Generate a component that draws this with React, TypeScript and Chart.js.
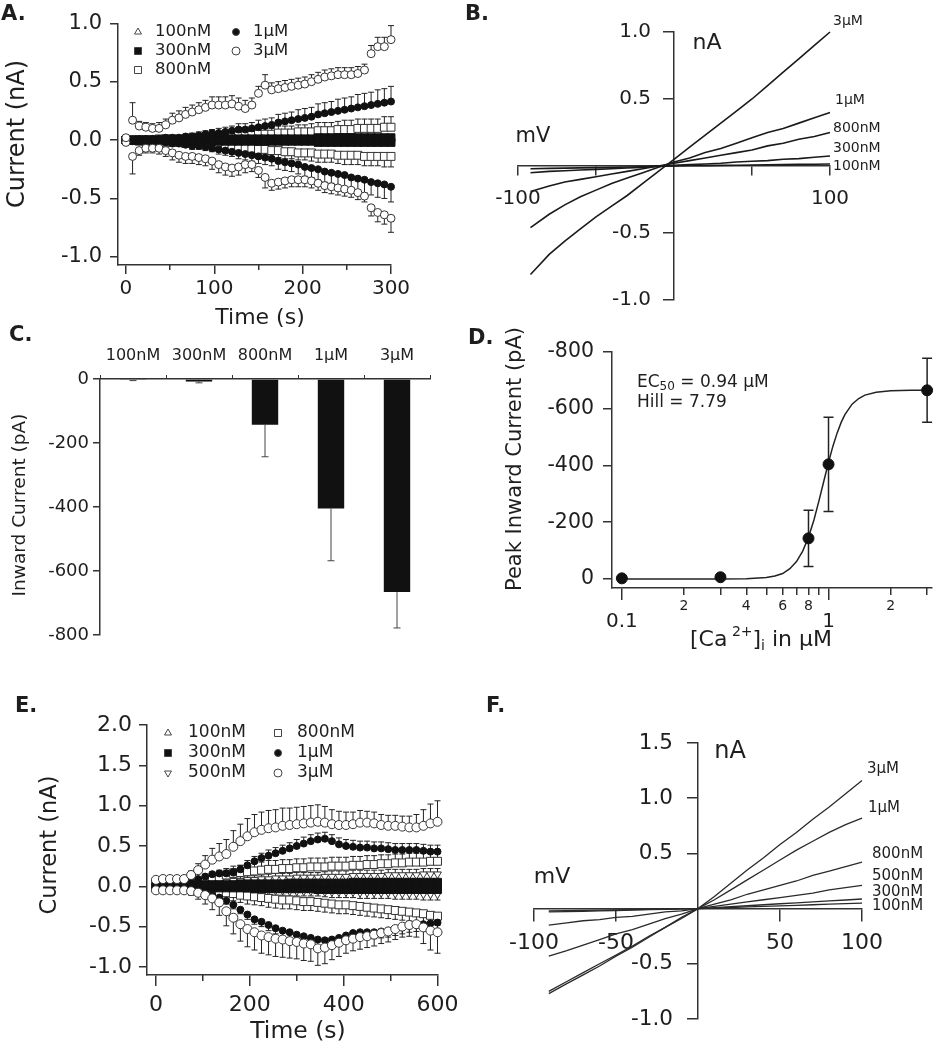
import React, { useEffect, useRef } from 'react';
import { Chart, registerables } from 'chart.js';
Chart.register(...registerables);

const W = 938;
const H = 1050;
const FAM = "'DejaVu Sans', 'Liberation Sans', Arial, sans-serif";
const INK = '#1e1e1e';
const AXC = '#333333';
Chart.defaults.font.family = FAM;

// ---------------- Panel A data (time course, Ca 100nM..3uM) ----------------
const A_T = [0,7.5,15,22.5,30,37.5,45,52.5,60,67.5,75,82.5,90,97.5,105,112.5,120,127.5,135,142.5,150,157.5,165,172.5,180,187.5,195,202.5,210,217.5,225,232.5,240,247.5,255,262.5,270,277.5,285,292.5,300];
const A_3UM_UP = [0.02,0.17,0.12,0.11,0.10,0.10,0.13,0.17,0.19,0.22,0.24,0.26,0.28,0.30,0.30,0.30,0.31,0.29,0.27,0.30,0.40,0.47,0.43,0.44,0.45,0.46,0.47,0.48,0.50,0.52,0.54,0.55,0.56,0.56,0.56,0.57,0.60,0.74,0.80,0.80,0.86];
const A_3UM_DN = [-0.02,-0.14,-0.09,-0.07,-0.07,-0.07,-0.09,-0.11,-0.13,-0.14,-0.14,-0.15,-0.16,-0.18,-0.21,-0.23,-0.24,-0.23,-0.21,-0.21,-0.26,-0.32,-0.37,-0.36,-0.35,-0.34,-0.34,-0.34,-0.35,-0.37,-0.39,-0.40,-0.41,-0.42,-0.43,-0.45,-0.48,-0.58,-0.62,-0.64,-0.67];
const A_3UM_ERR = [0.02,0.15,0.04,0.04,0.04,0.05,0.05,0.06,0.06,0.06,0.06,0.06,0.06,0.07,0.07,0.07,0.07,0.07,0.07,0.06,0.06,0.09,0.06,0.06,0.06,0.06,0.06,0.06,0.06,0.06,0.06,0.06,0.06,0.06,0.06,0.06,0.05,0.07,0.08,0.08,0.12];
const A_1UM_UP = [0.00,0.00,0.01,0.01,0.01,0.01,0.02,0.02,0.02,0.03,0.03,0.04,0.05,0.06,0.06,0.07,0.08,0.09,0.09,0.10,0.11,0.12,0.13,0.15,0.16,0.17,0.18,0.19,0.20,0.22,0.23,0.24,0.25,0.26,0.27,0.28,0.29,0.30,0.31,0.32,0.33];
const A_1UM_DN = [0.00,-0.01,-0.01,-0.01,-0.02,-0.02,-0.02,-0.03,-0.03,-0.04,-0.05,-0.05,-0.06,-0.07,-0.08,-0.09,-0.10,-0.11,-0.12,-0.13,-0.14,-0.15,-0.16,-0.18,-0.19,-0.20,-0.21,-0.23,-0.24,-0.25,-0.27,-0.28,-0.29,-0.30,-0.32,-0.33,-0.34,-0.36,-0.37,-0.38,-0.40];
const A_1UM_ERR = [0.01,0.01,0.01,0.01,0.01,0.02,0.02,0.02,0.02,0.02,0.03,0.03,0.03,0.03,0.04,0.04,0.04,0.05,0.05,0.05,0.06,0.06,0.06,0.07,0.07,0.07,0.08,0.08,0.08,0.09,0.09,0.09,0.10,0.10,0.10,0.11,0.11,0.11,0.12,0.12,0.13];
const A_800_UP = [0.00,0.00,0.00,0.00,0.00,0.01,0.01,0.01,0.01,0.01,0.02,0.02,0.02,0.02,0.03,0.03,0.03,0.04,0.04,0.04,0.05,0.05,0.05,0.06,0.06,0.06,0.07,0.07,0.07,0.08,0.08,0.08,0.09,0.09,0.09,0.10,0.10,0.10,0.10,0.11,0.11];
const A_800_DN = [0.00,0.00,-0.01,-0.01,-0.01,-0.01,-0.02,-0.02,-0.02,-0.03,-0.03,-0.03,-0.04,-0.04,-0.05,-0.05,-0.06,-0.06,-0.07,-0.07,-0.08,-0.08,-0.09,-0.09,-0.10,-0.10,-0.11,-0.11,-0.11,-0.12,-0.12,-0.12,-0.13,-0.13,-0.13,-0.13,-0.14,-0.14,-0.14,-0.14,-0.14];
const A_800_ERR = [0.01,0.01,0.01,0.01,0.01,0.01,0.02,0.02,0.02,0.02,0.02,0.03,0.03,0.03,0.03,0.04,0.04,0.04,0.04,0.05,0.05,0.05,0.05,0.06,0.06,0.06,0.06,0.06,0.07,0.07,0.07,0.07,0.07,0.08,0.08,0.08,0.08,0.08,0.08,0.09,0.09];
const A_300_UP = [0.00,0.00,0.00,0.00,0.00,0.00,0.00,0.00,0.00,0.00,0.01,0.01,0.01,0.01,0.01,0.01,0.01,0.01,0.01,0.01,0.01,0.01,0.01,0.01,0.01,0.01,0.01,0.01,0.01,0.02,0.02,0.02,0.02,0.02,0.02,0.02,0.02,0.02,0.02,0.02,0.02];
const A_300_DN = [0.00,0.00,0.00,0.00,0.00,0.00,0.00,0.00,0.00,0.00,-0.01,-0.01,-0.01,-0.01,-0.01,-0.01,-0.01,-0.01,-0.01,-0.01,-0.01,-0.01,-0.01,-0.01,-0.01,-0.01,-0.01,-0.01,-0.01,-0.02,-0.02,-0.02,-0.02,-0.02,-0.02,-0.02,-0.02,-0.02,-0.02,-0.02,-0.02];
const A_300_ERR = [0.01,0.01,0.01,0.01,0.01,0.01,0.01,0.01,0.01,0.01,0.01,0.01,0.01,0.01,0.01,0.01,0.01,0.01,0.01,0.01,0.01,0.01,0.01,0.01,0.01,0.01,0.01,0.01,0.01,0.01,0.01,0.01,0.01,0.01,0.01,0.01,0.01,0.01,0.01,0.01,0.01];
const A_100_UP = [0.00,0.00,0.00,0.00,0.00,0.00,0.00,0.00,0.00,0.00,0.00,0.00,0.00,0.00,0.00,0.00,0.00,0.00,0.00,0.00,0.01,0.01,0.01,0.01,0.01,0.01,0.01,0.01,0.01,0.01,0.01,0.01,0.01,0.01,0.01,0.01,0.01,0.01,0.01,0.01,0.01];
const A_100_DN = [0.00,0.00,0.00,0.00,0.00,0.00,0.00,0.00,0.00,0.00,0.00,0.00,0.00,0.00,0.00,0.00,0.00,0.00,0.00,0.00,-0.01,-0.01,-0.01,-0.01,-0.01,-0.01,-0.01,-0.01,-0.01,-0.01,-0.01,-0.01,-0.01,-0.01,-0.01,-0.01,-0.01,-0.01,-0.01,-0.01,-0.01];
const A_100_ERR = [0.01,0.01,0.01,0.01,0.01,0.01,0.01,0.01,0.01,0.01,0.01,0.01,0.01,0.01,0.01,0.01,0.01,0.01,0.01,0.01,0.01,0.01,0.01,0.01,0.01,0.01,0.01,0.01,0.01,0.01,0.01,0.01,0.01,0.01,0.01,0.01,0.01,0.01,0.01,0.01,0.01];

// ---------------- Panel B data (I-V ramps) ----------------
const B_MV = [-92,-80,-70,-60,-50,-40,-30,-20,-10,0,10,20,30,40,50,60,70,80,90,100];
const B_3UM = [-0.81,-0.66,-0.56,-0.47,-0.38,-0.30,-0.22,-0.13,-0.04,0.05,0.14,0.23,0.32,0.41,0.50,0.60,0.70,0.80,0.90,1.00];
const B_1UM = [-0.46,-0.36,-0.29,-0.23,-0.18,-0.13,-0.09,-0.05,-0.01,0.03,0.06,0.10,0.13,0.17,0.21,0.25,0.28,0.32,0.36,0.40];
const B_800 = [-0.19,-0.15,-0.12,-0.10,-0.08,-0.06,-0.04,-0.02,0.00,0.02,0.04,0.06,0.08,0.10,0.12,0.15,0.17,0.20,0.22,0.25];
const B_300 = [-0.05,-0.04,-0.035,-0.03,-0.025,-0.02,-0.015,-0.01,0.00,0.005,0.01,0.015,0.02,0.03,0.035,0.04,0.05,0.055,0.065,0.075];
const B_100 = [-0.02,-0.018,-0.016,-0.014,-0.012,-0.01,-0.008,-0.006,-0.003,0,0.002,0.003,0.005,0.006,0.008,0.009,0.01,0.012,0.013,0.015];
const B_LABELS = ['3μM','1μM','800nM','300nM','100nM'];
const B_YTICKS = [1, 0.5, -0.5, -1];

// ---------------- Panel C data (bars) ----------------
const C_CATS = ['100nM','300nM','800nM','1μM','3μM'];
const C_VALS = [-3,-8,-143,-405,-666];
const C_ERR = [2,4,100,163,112];

// ---------------- Panel D data (dose-response) ----------------
const D_X = [0.1,0.3,0.8,1,3];
const D_Y = [-2,-6,-143,-404,-665];
const D_ERR = [0,0,99,166,113];
const FIT_X = [0.1,0.2,0.3,0.4,0.5,0.55,0.6,0.65,0.7,0.75,0.8,0.85,0.9,0.95,1.0,1.05,1.1,1.15,1.2,1.3,1.4,1.5,1.7,2.0,2.5,3.0];
const FIT_Y = [0,0,0,-1,-5,-10,-19,-36,-61,-98,-147,-208,-277,-346,-411,-468,-514,-551,-579,-616,-636,-648,-658,-663,-665,-665];
const D_MINOR_TICKS = [0.2,0.3,0.4,0.5,0.6,0.7,0.8,0.9,2,3];
const D_MINOR_LABEL_AT = [0.2,0.4,0.6,0.8,2];
const D_MINOR_LABELS = ['2','4','6','8','2'];

// ---------------- Panel E data (time course, 600 s) ----------------
const E_T = [0,15,30,45,60,75,90,105,120,135,150,165,180,195,210,225,240,255,270,285,300,315,330,345,360,375,390,405,420,435,450,465,480,495,510,525,540,555,570,585,600];
const E_3UM_UP = [0.08,0.09,0.09,0.09,0.09,0.14,0.20,0.27,0.33,0.37,0.40,0.49,0.56,0.62,0.67,0.70,0.72,0.73,0.75,0.76,0.77,0.78,0.79,0.80,0.79,0.77,0.76,0.76,0.77,0.79,0.79,0.78,0.76,0.75,0.75,0.74,0.73,0.73,0.75,0.78,0.80];
const E_3UM_DN = [-0.05,-0.05,-0.05,-0.05,-0.05,-0.06,-0.08,-0.11,-0.15,-0.20,-0.31,-0.39,-0.47,-0.53,-0.57,-0.61,-0.63,-0.65,-0.66,-0.68,-0.69,-0.71,-0.72,-0.77,-0.76,-0.73,-0.70,-0.67,-0.65,-0.63,-0.62,-0.60,-0.58,-0.56,-0.53,-0.50,-0.48,-0.47,-0.51,-0.55,-0.57];
const E_3UM_ERR = [0.03,0.03,0.03,0.03,0.03,0.05,0.08,0.11,0.14,0.16,0.18,0.20,0.21,0.22,0.22,0.22,0.22,0.22,0.22,0.21,0.21,0.21,0.21,0.21,0.20,0.18,0.17,0.16,0.15,0.15,0.14,0.14,0.13,0.13,0.13,0.13,0.14,0.16,0.20,0.24,0.26];
const E_1UM_UP = [0.02,0.02,0.02,0.03,0.03,0.05,0.09,0.12,0.15,0.16,0.16,0.17,0.21,0.26,0.31,0.35,0.38,0.41,0.44,0.47,0.50,0.53,0.56,0.58,0.59,0.56,0.52,0.50,0.49,0.48,0.48,0.47,0.47,0.46,0.45,0.45,0.45,0.45,0.44,0.43,0.43];
const E_1UM_DN = [-0.02,-0.02,-0.02,-0.02,-0.03,-0.04,-0.05,-0.07,-0.11,-0.14,-0.18,-0.23,-0.29,-0.35,-0.41,-0.44,-0.48,-0.52,-0.55,-0.57,-0.60,-0.62,-0.64,-0.66,-0.67,-0.66,-0.64,-0.61,-0.58,-0.57,-0.57,-0.57,-0.56,-0.55,-0.53,-0.51,-0.49,-0.48,-0.47,-0.46,-0.45];
const E_1UM_ERR = [0.01,0.01,0.01,0.01,0.01,0.02,0.02,0.03,0.03,0.04,0.04,0.05,0.05,0.06,0.06,0.06,0.07,0.07,0.07,0.07,0.08,0.08,0.08,0.08,0.08,0.08,0.08,0.08,0.08,0.08,0.08,0.08,0.08,0.08,0.08,0.08,0.08,0.08,0.08,0.08,0.08];
const E_800_UP = [0.02,0.02,0.02,0.02,0.02,0.03,0.04,0.06,0.08,0.11,0.14,0.16,0.17,0.18,0.19,0.20,0.21,0.21,0.22,0.22,0.23,0.23,0.24,0.24,0.24,0.25,0.25,0.25,0.26,0.26,0.27,0.27,0.28,0.28,0.29,0.29,0.30,0.30,0.30,0.31,0.31];
const E_800_DN = [-0.01,-0.01,-0.01,-0.01,-0.01,-0.02,-0.03,-0.04,-0.05,-0.07,-0.08,-0.09,-0.11,-0.12,-0.13,-0.14,-0.15,-0.16,-0.17,-0.17,-0.18,-0.19,-0.19,-0.20,-0.21,-0.22,-0.23,-0.23,-0.24,-0.25,-0.26,-0.27,-0.28,-0.29,-0.30,-0.31,-0.32,-0.33,-0.34,-0.36,-0.37];
const E_800_ERR = [0.02,0.02,0.02,0.02,0.02,0.03,0.04,0.05,0.06,0.07,0.08,0.09,0.09,0.10,0.10,0.10,0.11,0.11,0.11,0.11,0.11,0.11,0.11,0.11,0.11,0.11,0.11,0.11,0.11,0.11,0.11,0.11,0.11,0.11,0.11,0.11,0.11,0.11,0.11,0.11,0.11];
const E_500_UP = [0.01,0.01,0.01,0.01,0.01,0.02,0.02,0.03,0.04,0.05,0.06,0.07,0.07,0.08,0.08,0.09,0.09,0.10,0.10,0.10,0.11,0.11,0.11,0.11,0.12,0.12,0.12,0.12,0.13,0.13,0.13,0.13,0.13,0.14,0.14,0.14,0.14,0.14,0.15,0.15,0.15];
const E_500_DN = [-0.01,-0.01,-0.01,-0.01,-0.01,-0.01,-0.02,-0.02,-0.02,-0.03,-0.03,-0.03,-0.04,-0.04,-0.04,-0.05,-0.05,-0.05,-0.05,-0.06,-0.06,-0.06,-0.06,-0.06,-0.07,-0.07,-0.07,-0.07,-0.07,-0.08,-0.08,-0.08,-0.08,-0.08,-0.09,-0.09,-0.09,-0.09,-0.10,-0.10,-0.10];
const E_500_ERR = [0.02,0.02,0.02,0.02,0.02,0.02,0.03,0.03,0.03,0.04,0.04,0.04,0.05,0.05,0.05,0.05,0.06,0.06,0.06,0.06,0.06,0.06,0.06,0.06,0.06,0.07,0.07,0.07,0.07,0.07,0.07,0.07,0.07,0.07,0.07,0.07,0.07,0.07,0.07,0.07,0.07];
const E_300_UP = [0.01,0.01,0.01,0.01,0.01,0.01,0.01,0.02,0.02,0.02,0.02,0.02,0.03,0.03,0.03,0.03,0.03,0.03,0.03,0.04,0.04,0.04,0.04,0.04,0.04,0.04,0.04,0.04,0.05,0.05,0.05,0.05,0.05,0.05,0.05,0.05,0.05,0.05,0.05,0.05,0.05];
const E_300_DN = [-0.01,-0.01,-0.01,-0.01,-0.01,-0.01,-0.01,-0.01,-0.02,-0.02,-0.02,-0.02,-0.02,-0.02,-0.03,-0.03,-0.03,-0.03,-0.03,-0.03,-0.03,-0.03,-0.03,-0.04,-0.04,-0.04,-0.04,-0.04,-0.04,-0.04,-0.04,-0.04,-0.04,-0.04,-0.04,-0.04,-0.04,-0.04,-0.04,-0.04,-0.04];
const E_300_ERR = [0.02,0.02,0.02,0.02,0.02,0.02,0.02,0.02,0.02,0.03,0.03,0.03,0.03,0.03,0.03,0.03,0.03,0.03,0.03,0.03,0.03,0.03,0.03,0.03,0.03,0.03,0.03,0.03,0.03,0.03,0.03,0.03,0.03,0.03,0.03,0.03,0.03,0.03,0.03,0.03,0.03];
const E_100_UP = [0.00,0.00,0.00,0.00,0.00,0.00,0.00,0.00,0.00,0.01,0.01,0.01,0.01,0.01,0.01,0.01,0.01,0.01,0.01,0.01,0.01,0.01,0.01,0.01,0.01,0.01,0.01,0.01,0.01,0.01,0.02,0.02,0.02,0.02,0.02,0.02,0.02,0.02,0.02,0.02,0.02];
const E_100_DN = [0.00,0.00,0.00,0.00,0.00,0.00,0.00,0.00,0.00,-0.01,-0.01,-0.01,-0.01,-0.01,-0.01,-0.01,-0.01,-0.01,-0.01,-0.01,-0.01,-0.01,-0.01,-0.01,-0.01,-0.01,-0.01,-0.01,-0.01,-0.01,-0.01,-0.01,-0.01,-0.01,-0.01,-0.01,-0.01,-0.01,-0.01,-0.01,-0.01];
const E_100_ERR = [0.01,0.01,0.01,0.01,0.01,0.01,0.01,0.01,0.01,0.01,0.01,0.01,0.01,0.01,0.01,0.01,0.01,0.01,0.01,0.01,0.01,0.01,0.01,0.01,0.01,0.01,0.01,0.01,0.01,0.01,0.01,0.01,0.01,0.01,0.01,0.01,0.01,0.01,0.01,0.01,0.01];

// ---------------- Panel F data (I-V ramps) ----------------
const F_MV = [-91,-80,-70,-60,-50,-40,-30,-20,-10,0,10,20,30,40,50,60,70,80,90,100];
const F_3UM = [-0.77,-0.68,-0.60,-0.52,-0.43,-0.35,-0.26,-0.17,-0.09,0,0.11,0.23,0.35,0.46,0.58,0.69,0.81,0.92,1.04,1.16];
const F_1UM = [-0.75,-0.66,-0.58,-0.50,-0.42,-0.34,-0.25,-0.17,-0.08,0,0.08,0.17,0.26,0.35,0.44,0.53,0.61,0.69,0.76,0.82];
const F_800 = [-0.43,-0.38,-0.33,-0.28,-0.23,-0.19,-0.14,-0.09,-0.05,0,0.04,0.08,0.13,0.17,0.21,0.25,0.30,0.34,0.38,0.42];
const F_500 = [-0.15,-0.13,-0.11,-0.10,-0.08,-0.07,-0.05,-0.03,-0.02,0,0.02,0.04,0.06,0.08,0.10,0.12,0.14,0.17,0.19,0.21];
const F_300 = [-0.03,-0.027,-0.024,-0.02,-0.017,-0.013,-0.01,-0.007,-0.003,0,0.008,0.017,0.026,0.035,0.044,0.052,0.061,0.07,0.078,0.087];
const F_100 = [-0.02,-0.018,-0.016,-0.013,-0.011,-0.009,-0.007,-0.004,-0.002,0,0.005,0.01,0.015,0.02,0.025,0.03,0.035,0.04,0.045,0.05];
const F_LABELS = ['3μM','1μM','800nM','500nM','300nM','100nM'];
const F_YTICKS = [1.5, 1, 0.5, -0.5, -1];

// ---------------- helpers ----------------
const xy = (xs: number[], ys: number[]) => xs.map((x, i) => ({ x, y: ys[i] }));

type AxOpt = {
  type?: string; min: number; max: number; position: any; fit: 'w' | 'h'; size0?: number; weight?: number;
  ticks: number[]; labels?: (v: number) => string; size?: number;
  tickLength: number; padding?: number; border?: boolean; reverse?: boolean;
};
function axis(o: AxOpt) {
  return {
    type: o.type || 'linear',
    min: o.min, max: o.max, reverse: !!o.reverse, position: o.position, weight: o.weight ?? 0,
    afterFit: (s: any) => { if (o.fit === 'w') s.width = o.size0 ?? 0; else s.height = o.size0 ?? 0; },
    afterBuildTicks: (s: any) => { s.ticks = o.ticks.map((v) => ({ value: v })); },
    ticks: {
      autoSkip: false, maxRotation: 0, minRotation: 0, padding: o.padding ?? 4, color: INK,
      font: { family: FAM, size: o.size ?? 14 },
      callback: (v: any) => (o.labels ? o.labels(Number(v)) : ''),
    },
    grid: { display: true, drawOnChartArea: false, drawTicks: true, tickLength: o.tickLength, color: AXC, tickColor: AXC, tickWidth: 1.5, lineWidth: 1.5 },
    border: { display: o.border !== false, color: AXC, width: 1.5 },
  };
}

function scatterSeries(xs: number[], ys: number[], err: number[], dir: number, style: string, r: number, filled: boolean, rot = 0) {
  return {
    data: xy(xs, ys), showLine: false, pointStyle: style, pointRadius: r, pointHoverRadius: r, pointRotation: rot,
    pointBackgroundColor: filled ? '#111' : '#fff', pointBorderColor: filled ? '#111' : '#333', pointBorderWidth: 1,
    err, errDir: dir, errCap: 3, errWidth: 1, clip: false,
  };
}
function lineSeries(xs: number[], ys: number[], width: number, color: string) {
  return { data: xy(xs, ys), showLine: true, pointRadius: 0, pointHoverRadius: 0, borderColor: color, borderWidth: width, tension: 0, clip: false };
}

const errorBars = {
  id: 'errorBars',
  beforeDatasetsDraw(chart: any) {
    const ctx = chart.ctx;
    chart.data.datasets.forEach((ds: any, di: number) => {
      if (!ds.err) return;
      const meta = chart.getDatasetMeta(di);
      const ys = chart.scales[meta.yAxisID];
      ctx.save();
      ctx.strokeStyle = ds.errColor || '#222';
      ctx.lineWidth = ds.errWidth || 1;
      const cap = ds.errCap ?? 3;
      meta.data.forEach((el: any, i: number) => {
        const e = ds.err[i];
        if (!e) return;
        const raw = ds.data[i];
        const v = typeof raw === 'number' ? raw : raw.y;
        const ends = ds.errDir === 0 ? [v + e, v - e] : [v + ds.errDir * e];
        const y0 = ys.getPixelForValue(v);
        ends.forEach((end: number) => {
          const y1 = ys.getPixelForValue(end);
          ctx.beginPath();
          ctx.moveTo(el.x, y0); ctx.lineTo(el.x, y1);
          ctx.moveTo(el.x - cap, y1); ctx.lineTo(el.x + cap, y1);
          ctx.stroke();
        });
      });
      ctx.restore();
    });
  },
};

// tick labels of an axis that crosses at zero, placed with the chart's own scales
function crossYLabels(values: number[], size: number, gap: number) {
  return {
    id: 'crossYLabels',
    afterDraw(chart: any) {
      const ctx = chart.ctx;
      const xs = chart.scales.x;
      const ys = chart.scales.y;
      const x0 = xs.getPixelForValue(0);
      ctx.save();
      ctx.fillStyle = INK;
      ctx.font = `${size}px ${FAM}`;
      ctx.textAlign = 'right';
      ctx.textBaseline = 'middle';
      values.forEach((v) => ctx.fillText(v.toFixed(1), x0 - gap, ys.getPixelForValue(v)));
      ctx.restore();
    },
  };
}

// small labels of the minor log ticks, placed with the chart's own x2 scale
function minorXLabels(scaleId: string, values: number[], labels: string[], y: number, size: number) {
  return {
    id: 'minorXLabels',
    afterDraw(chart: any) {
      const ctx = chart.ctx;
      const xs = chart.scales[scaleId];
      ctx.save();
      ctx.fillStyle = INK;
      ctx.font = `${size}px ${FAM}`;
      ctx.textAlign = 'center';
      ctx.textBaseline = 'middle';
      values.forEach((v, i) => ctx.fillText(labels[i], xs.getPixelForValue(v), y));
      ctx.restore();
    },
  };
}

type Seg = { t: string; size: number; bold?: boolean; dy?: number };
type TItem = { segs: Seg[]; x: number; y: number; align?: 'left' | 'center' | 'right'; rot?: number; base?: CanvasTextBaseline };
const T = (t: string, x: number, y: number, size: number, align: 'left' | 'center' | 'right' = 'center', rot = 0, bold = false, base: CanvasTextBaseline = 'middle'): TItem =>
  ({ segs: [{ t, size, bold }], x, y, align, rot, base });
const fontOf = (s: Seg) => `${s.bold ? 'bold ' : ''}${s.size}px ${FAM}`;

function textPlugin(items: TItem[]) {
  return {
    id: 'texts',
    afterDraw(chart: any) {
      const ctx = chart.ctx;
      items.forEach((it) => {
        ctx.save();
        ctx.fillStyle = INK;
        ctx.textAlign = 'left';
        ctx.textBaseline = it.base || 'middle';
        const widths = it.segs.map((s) => { ctx.font = fontOf(s); return ctx.measureText(s.t).width; });
        const total = widths.reduce((a, b) => a + b, 0);
        ctx.translate(it.x, it.y);
        if (it.rot) ctx.rotate((it.rot * Math.PI) / 180);
        let x0 = it.align === 'center' ? -total / 2 : it.align === 'right' ? -total : 0;
        it.segs.forEach((s, i) => { ctx.font = fontOf(s); ctx.fillText(s.t, x0, s.dy || 0); x0 += widths[i]; });
        ctx.restore();
      });
    },
  };
}

type LItem = { x: number; tx: number; y: number; style: string; r: number; filled: boolean; label: string };
function drawMarker(ctx: CanvasRenderingContext2D, style: string, x: number, y: number, r: number, filled: boolean) {
  ctx.beginPath();
  if (style === 'circle') ctx.arc(x, y, r, 0, Math.PI * 2);
  else if (style === 'rect') ctx.rect(x - r, y - r, 2 * r, 2 * r);
  else if (style === 'triangle') { ctx.moveTo(x, y - r); ctx.lineTo(x + r * 0.87, y + r * 0.5); ctx.lineTo(x - r * 0.87, y + r * 0.5); ctx.closePath(); }
  else { ctx.moveTo(x, y + r); ctx.lineTo(x + r * 0.87, y - r * 0.5); ctx.lineTo(x - r * 0.87, y - r * 0.5); ctx.closePath(); }
  ctx.fillStyle = filled ? '#111' : '#fff';
  ctx.fill();
  ctx.strokeStyle = '#444';
  ctx.lineWidth = 1;
  ctx.stroke();
}
function legendPlugin(items: LItem[], size: number) {
  return {
    id: 'customLegend',
    afterDraw(chart: any) {
      const ctx = chart.ctx;
      ctx.save();
      items.forEach((it) => {
        drawMarker(ctx, it.style, it.x, it.y, it.r, it.filled);
        ctx.fillStyle = INK;
        ctx.font = `${size}px ${FAM}`;
        ctx.textAlign = 'left';
        ctx.textBaseline = 'middle';
        ctx.fillText(it.label, it.tx, it.y);
      });
      ctx.restore();
    },
  };
}

const baseOptions = (padding: any, scales: any) => ({
  responsive: false, animation: false, devicePixelRatio: 1, events: [],
  layout: { padding },
  plugins: { legend: { display: false }, tooltip: { enabled: false }, title: { display: false } },
  scales,
});

// ---------------- chart configs ----------------
// chart area A: x 118..391, y 23.3..265 ; y-axis box 118 wide, x-axis box 60 tall
function configA() {
  const datasets = [
    scatterSeries(A_T, A_3UM_UP, A_3UM_ERR, 1, 'circle', 4, false),
    scatterSeries(A_T, A_3UM_DN, A_3UM_ERR, -1, 'circle', 4, false),
    scatterSeries(A_T, A_1UM_UP, A_1UM_ERR, 1, 'circle', 3.5, true),
    scatterSeries(A_T, A_1UM_DN, A_1UM_ERR, -1, 'circle', 3.5, true),
    scatterSeries(A_T, A_300_UP, A_300_ERR, 1, 'rect', 5.6, true),
    scatterSeries(A_T, A_300_DN, A_300_ERR, -1, 'rect', 5.6, true),
    scatterSeries(A_T, A_800_UP, A_800_ERR, 1, 'rect', 5.6, false),
    scatterSeries(A_T, A_800_DN, A_800_ERR, -1, 'rect', 5.6, false),
    scatterSeries(A_T, A_100_UP, A_100_ERR, 1, 'triangle', 4.5, false),
    scatterSeries(A_T, A_100_DN, A_100_ERR, -1, 'triangle', 4.5, false),
  ];
  return {
    type: 'scatter',
    data: { datasets },
    options: baseOptions({ left: 0, top: 23.3, right: W - 391, bottom: H - 265 - 60 }, {
      x2: axis({ min: -9, max: 300, position: 'bottom', fit: 'h', size0: 0, weight: 0, ticks: [50, 150, 250], tickLength: 5, border: false }),
      x: axis({ min: -9, max: 300, position: 'bottom', fit: 'h', size0: 60, weight: 1, ticks: [0, 100, 200, 300], labels: (v) => String(v), size: 20, tickLength: 9, padding: 3 }),
      y: axis({ min: -1.07, max: 1.0, position: 'left', fit: 'w', size0: 118, ticks: [1, 0.5, 0, -0.5, -1], labels: (v) => v.toFixed(1), size: 21, tickLength: 8, padding: 8 }),
    }),
    plugins: [
      errorBars,
      legendPlugin([
        { x: 138, tx: 155, y: 32, style: 'triangle', r: 4, filled: false, label: '100nM' },
        { x: 138, tx: 155, y: 51, style: 'rect', r: 3.5, filled: true, label: '300nM' },
        { x: 138, tx: 155, y: 70, style: 'rect', r: 3.5, filled: false, label: '800nM' },
        { x: 236, tx: 253, y: 32, style: 'circle', r: 3.5, filled: true, label: '1μM' },
        { x: 236, tx: 253, y: 51, style: 'circle', r: 4, filled: false, label: '3μM' },
      ], 16.5),
      textPlugin([
        T('A.', 1, 20, 21, 'left', 0, true, 'alphabetic'),
        T('Current (nA)', 18, 134, 24, 'center', -90),
        T('Time (s)', 260, 318, 22),
      ]),
    ],
  };
}

// chart area B: x 518..830, y 32..300 (axes cross at 0)
function configB() {
  const ys = [B_3UM, B_1UM, B_800, B_300, B_100];
  return {
    type: 'scatter',
    data: { datasets: ys.map((y) => lineSeries(B_MV, y, 1.6, '#1a1a1a')) },
    options: baseOptions({ left: 518, top: 32, right: W - 830, bottom: H - 300 }, {
      x: axis({ min: -100, max: 100, position: { y: 0 }, fit: 'h', ticks: [-100, -50, 50, 100], labels: (v) => (Math.abs(v) === 100 ? String(v) : ''), size: 20, tickLength: 9, padding: 12 }),
      y: axis({ min: -1, max: 1, position: { x: 0 }, fit: 'w', ticks: B_YTICKS, tickLength: 10 }),
    }),
    plugins: [
      crossYLabels(B_YTICKS, 20, 23),
      textPlugin([
        T('B.', 465, 20, 21, 'left', 0, true, 'alphabetic'),
        T('mV', 533, 137, 21),
        T('nA', 707, 43, 22),
        T(B_LABELS[0], 833, 21, 14, 'left'),
        T(B_LABELS[1], 835, 100, 14, 'left'),
        T(B_LABELS[2], 833, 128, 14, 'left'),
        T(B_LABELS[3], 833, 148, 14, 'left'),
        T(B_LABELS[4], 833, 166, 14, 'left'),
      ]),
    ],
  };
}

// chart area C: x 100..430, y 379..635 (category axis on top)
function configC() {
  return {
    type: 'bar',
    data: {
      labels: C_CATS,
      datasets: [{ data: C_VALS, backgroundColor: '#111', borderWidth: 0, barPercentage: 0.4, categoryPercentage: 1, err: C_ERR, errDir: -1, errCap: 3.5, errWidth: 1, errColor: '#444' }],
    },
    options: baseOptions({ left: 0, top: 300, right: W - 430, bottom: H - 635 }, {
      x: {
        type: 'category', position: 'top', offset: true,
        afterFit: (s: any) => { s.height = 79; },
        ticks: { autoSkip: false, maxRotation: 0, minRotation: 0, padding: 10, color: INK, font: { family: FAM, size: 16 } },
        grid: { display: true, drawOnChartArea: false, drawTicks: true, tickLength: 4, offset: true, color: AXC, tickColor: AXC, tickWidth: 1 },
        border: { display: true, color: AXC, width: 1.5 },
      },
      y: axis({ min: -800, max: 0, position: 'left', fit: 'w', size0: 100, ticks: [0, -200, -400, -600, -800], labels: (v) => String(v), size: 18, tickLength: 7, padding: 4 }),
    }),
    plugins: [
      errorBars,
      textPlugin([
        T('C.', 9, 341, 21, 'left', 0, true, 'alphabetic'),
        T('Inward Current (pA)', 20, 505, 18.5, 'center', -90),
      ]),
    ],
  };
}

// chart area D: x 612..936.6 (log), y 352..588 (reversed)
function configD() {
  return {
    type: 'scatter',
    data: {
      datasets: [
        { data: xy(D_X, D_Y), showLine: false, pointRadius: 5.5, pointHoverRadius: 5.5, pointBackgroundColor: '#111', pointBorderColor: '#111', err: D_ERR, errDir: 0, errCap: 5, errWidth: 1.5, clip: false },
        lineSeries(FIT_X, FIT_Y, 1.5, '#222'),
      ],
    },
    options: baseOptions({ left: 0, top: 352, right: W - 936.6, bottom: H - 588 - 50 }, {
      x2: axis({ type: 'logarithmic', min: 0.0896, max: 3.15, position: 'bottom', fit: 'h', size0: 0, weight: 0, ticks: D_MINOR_TICKS, tickLength: 7, border: false }),
      x: axis({ type: 'logarithmic', min: 0.0896, max: 3.15, position: 'bottom', fit: 'h', size0: 50, weight: 1, ticks: [0.1, 1], labels: (v) => (v < 0.5 ? '0.1' : '1'), size: 20, tickLength: 12, padding: 10 }),
      y: axis({ min: -800, max: 32, reverse: true, position: 'left', fit: 'w', size0: 612, ticks: [-800, -600, -400, -200, 0], labels: (v) => String(v), size: 20.5, tickLength: 9, padding: 9 }),
    }),
    plugins: [
      errorBars,
      minorXLabels('x2', D_MINOR_LABEL_AT, D_MINOR_LABELS, 606, 14),
      textPlugin([
        T('D.', 468, 344, 21, 'left', 0, true, 'alphabetic'),
        T('Peak Inward Current (pA)', 516, 459, 21, 'center', -90),
        { segs: [{ t: 'EC', size: 17 }, { t: '50', size: 12, dy: 3 }, { t: ' = 0.94 μM', size: 17 }], x: 637, y: 387, align: 'left', base: 'alphabetic' },
        T('Hill = 7.79', 637, 407, 17, 'left', 0, false, 'alphabetic'),
        { segs: [{ t: '[Ca', size: 22 }, { t: ' 2+', size: 14, dy: -10 }, { t: ']', size: 22 }, { t: 'i', size: 14, dy: 4 }, { t: ' in μM', size: 22 }], x: 690, y: 646, align: 'left', base: 'alphabetic' },
      ]),
    ],
  };
}

// chart area E: x 147..437.5, y 725..975
function configE() {
  const datasets = [
    scatterSeries(E_T, E_3UM_UP, E_3UM_ERR, 1, 'circle', 4.5, false),
    scatterSeries(E_T, E_3UM_DN, E_3UM_ERR, -1, 'circle', 4.5, false),
    scatterSeries(E_T, E_1UM_UP, E_1UM_ERR, 1, 'circle', 3.5, true),
    scatterSeries(E_T, E_1UM_DN, E_1UM_ERR, -1, 'circle', 3.5, true),
    scatterSeries(E_T, E_300_UP, E_300_ERR, 1, 'rect', 5.6, true),
    scatterSeries(E_T, E_300_DN, E_300_ERR, -1, 'rect', 5.6, true),
    scatterSeries(E_T, E_800_UP, E_800_ERR, 1, 'rect', 5.6, false),
    scatterSeries(E_T, E_800_DN, E_800_ERR, -1, 'rect', 5.6, false),
    scatterSeries(E_T, E_500_UP, E_500_ERR, 1, 'triangle', 4.5, false, 180),
    scatterSeries(E_T, E_500_DN, E_500_ERR, -1, 'triangle', 4.5, false, 180),
    scatterSeries(E_T, E_100_UP, E_100_ERR, 1, 'triangle', 4.5, false),
    scatterSeries(E_T, E_100_DN, E_100_ERR, -1, 'triangle', 4.5, false),
  ];
  return {
    type: 'scatter',
    data: { datasets },
    options: baseOptions({ left: 0, top: 725, right: W - 437.5, bottom: H - 975 - 50 }, {
      x2: axis({ min: -19, max: 600, position: 'bottom', fit: 'h', size0: 0, weight: 0, ticks: [100, 300, 500], tickLength: 6, border: false }),
      x: axis({ min: -19, max: 600, position: 'bottom', fit: 'h', size0: 50, weight: 1, ticks: [0, 200, 400, 600], labels: (v) => String(v), size: 22, tickLength: 11, padding: 6 }),
      y: axis({ min: -1.1, max: 2.0, position: 'left', fit: 'w', size0: 147, ticks: [2, 1.5, 1, 0.5, 0, -0.5, -1], labels: (v) => v.toFixed(1), size: 22, tickLength: 8, padding: 7 }),
    }),
    plugins: [
      errorBars,
      legendPlugin([
        { x: 168, tx: 188, y: 733, style: 'triangle', r: 4, filled: false, label: '100nM' },
        { x: 168, tx: 188, y: 753, style: 'rect', r: 3.5, filled: true, label: '300nM' },
        { x: 168, tx: 188, y: 773, style: 'triangleDown', r: 4, filled: false, label: '500nM' },
        { x: 278, tx: 297, y: 733, style: 'rect', r: 3.5, filled: false, label: '800nM' },
        { x: 278, tx: 297, y: 753, style: 'circle', r: 3.5, filled: true, label: '1μM' },
        { x: 278, tx: 297, y: 773, style: 'circle', r: 4, filled: false, label: '3μM' },
      ], 17),
      textPlugin([
        T('E.', 15, 712, 21, 'left', 0, true, 'alphabetic'),
        T('Current (nA)', 50, 845, 22.5, 'center', -90),
        T('Time (s)', 298, 1032, 23.5),
      ]),
    ],
  };
}

// chart area F: x 534..862, y 743..1019 (axes cross at 0)
function configF() {
  const ys = [F_3UM, F_1UM, F_800, F_500, F_300, F_100];
  return {
    type: 'scatter',
    data: { datasets: ys.map((y) => lineSeries(F_MV, y, 1.3, '#2a2a2a')) },
    options: baseOptions({ left: 534, top: 743, right: W - 862, bottom: H - 1019 }, {
      x: axis({ min: -100, max: 100, position: { y: 0 }, fit: 'h', ticks: [-100, -50, 50, 100], labels: (v) => String(v), size: 22, tickLength: 12, padding: 9 }),
      y: axis({ min: -1, max: 1.5, position: { x: 0 }, fit: 'w', ticks: F_YTICKS, tickLength: 10 }),
    }),
    plugins: [
      crossYLabels(F_YTICKS, 21.5, 25),
      textPlugin([
        T('F.', 486, 712, 21, 'left', 0, true, 'alphabetic'),
        T('mV', 552, 877, 22),
        T('nA', 730, 752, 24),
        T(F_LABELS[0], 867, 769, 15, 'left'),
        T(F_LABELS[1], 868, 808, 15, 'left'),
        T(F_LABELS[2], 872, 854, 15, 'left'),
        T(F_LABELS[3], 872, 876, 15, 'left'),
        T(F_LABELS[4], 872, 892, 15, 'left'),
        T(F_LABELS[5], 872, 906, 15, 'left'),
      ]),
    ],
  };
}

function Panel({ make }: { make: () => any }) {
  const ref = useRef<HTMLCanvasElement>(null);
  useEffect(() => {
    const chart = new Chart(ref.current as HTMLCanvasElement, make());
    return () => chart.destroy();
  }, [make]);
  return <canvas ref={ref} width={W} height={H} style={{ position: 'absolute', left: 0, top: 0, width: W, height: H }} />;
}

export default function App() {
  return (
    <div style={{ position: 'absolute', left: 0, top: 0, width: W, height: H, background: '#fff', overflow: 'hidden' }}>
      <Panel make={configA} />
      <Panel make={configB} />
      <Panel make={configC} />
      <Panel make={configD} />
      <Panel make={configE} />
      <Panel make={configF} />
    </div>
  );
}
